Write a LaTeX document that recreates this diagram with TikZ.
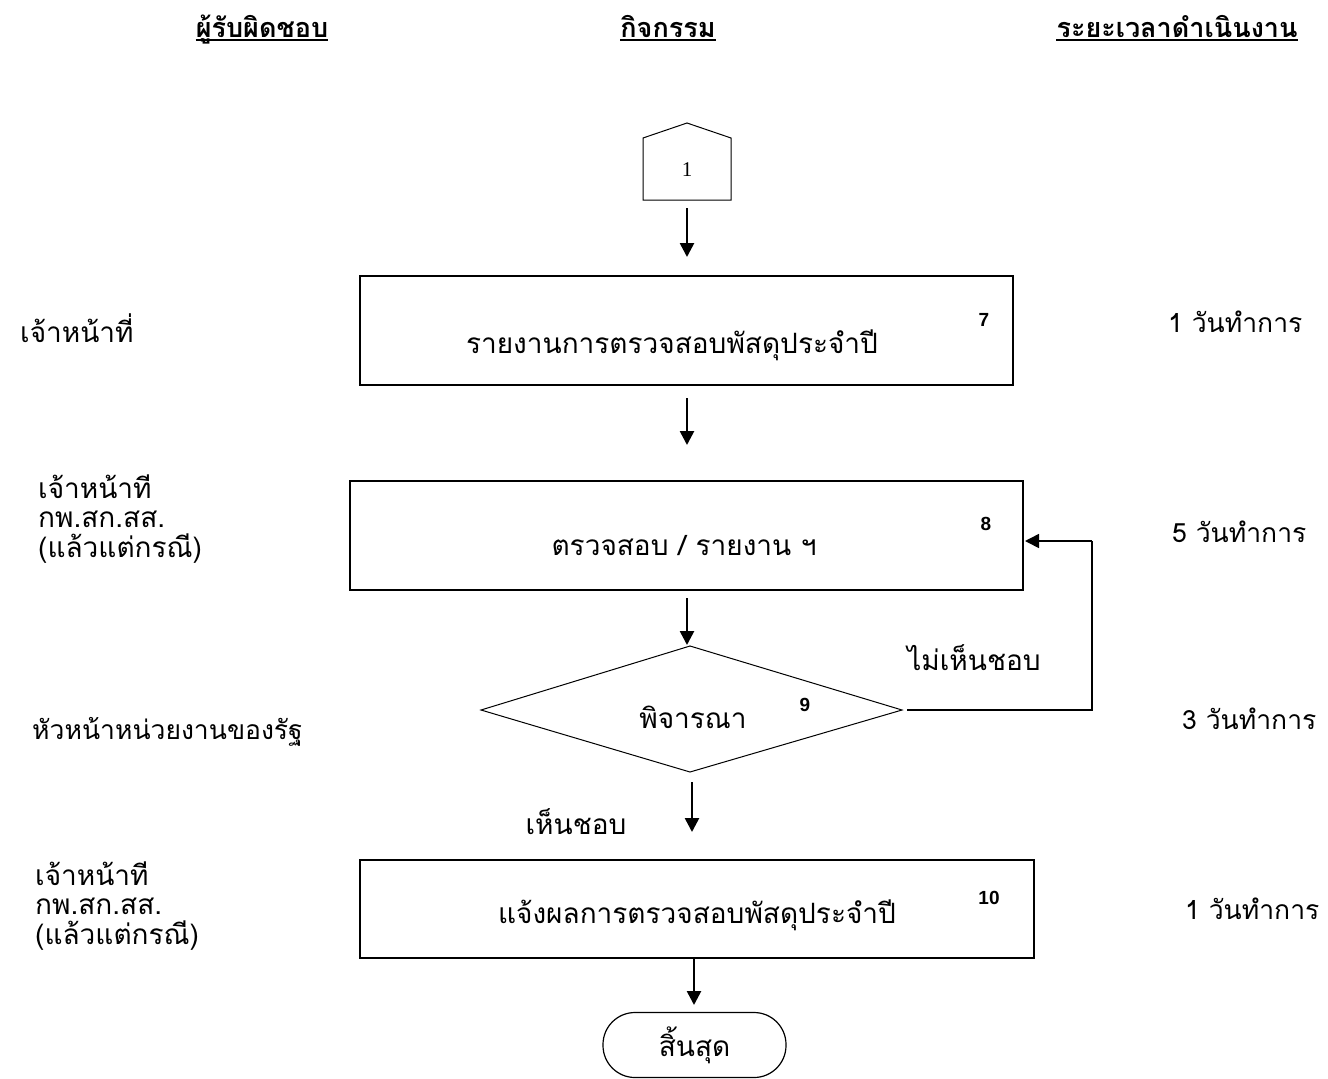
\documentclass[tikz,border=0pt]{standalone}
\usepackage{fontspec}
\newfontfamily\thai[Script=Thai]{Loma}
\setmainfont{Liberation Sans}
\newfontfamily\serif{Liberation Serif}
\usetikzlibrary{arrows.meta}
\begin{document}
\begin{tikzpicture}[x=1pt,y=-1pt,
  box/.style={draw,line width=1.1pt,rectangle,inner sep=0pt},
  txt/.style={font=\thai\fontsize{28}{29.5}\selectfont,inner sep=0pt},
  lefttxt/.style={txt,anchor=west,align=left},
  durtxt/.style={lefttxt,font=\thai\fontsize{26.5}{29.5}\selectfont},
  num/.style={font=\rmfamily\bfseries\fontsize{19}{21}\selectfont,inner sep=0pt},
  head/.style={font=\thai\bfseries\fontsize{27}{30}\selectfont,inner sep=0pt,anchor=base},
  arr/.style={line width=2.6pt,-{Triangle[length=14pt,width=14pt]}},
  link/.style={line width=1.6pt}]
\useasboundingbox (0,0) rectangle (1328,1079);
% headers
\node[head] (h1) at (262,37) {ผู้รับผิดชอบ};
\node[head] (h2) at (668,37) {กิจกรรม};
\node[head] (h3) at (1177,37) {ระยะเวลาดำเนินงาน};
\foreach \h in {h1,h2,h3}{\draw[line width=1.5pt] ([yshift=-3pt]\h.base west) -- ([yshift=-3pt]\h.base east);}
% off-page connector
\draw[line width=1pt] (643,200) -- (643,138) -- (687,123) -- (731,138) -- (731,200) -- cycle;
\node[font=\serif\fontsize{21}{23}\selectfont,inner sep=0pt] (c1) at (687,170) {1};
\coordinate (a1s) at (687,208); \coordinate (a1e) at (687,257);
\draw[arr] (a1s) -- (a1e);
% box 7
\node[box,minimum width=653pt,minimum height=109pt] (b7) at (686.5,330.5) {};
\node[txt] (t7) at (672,345) {รายงานการตรวจสอบพัสดุประจำปี};
\node[num] (n7) at (984,320) {7};
\coordinate (a2s) at (687,398); \coordinate (a2e) at (687,445);
\draw[arr] (a2s) -- (a2e);
% box 8
\node[box,minimum width=673pt,minimum height=109pt] (b8) at (686.5,535.5) {};
\node[txt] (t8) at (684,546) {ตรวจสอบ / รายงาน ฯ};
\node[num] (n8) at (986,524) {8};
\coordinate (a3s) at (687,598); \coordinate (a3e) at (687,645);
\draw[arr] (a3s) -- (a3e);
% diamond
\draw[line width=1pt] (481,710) -- (690,646) -- (902,710) -- (690,772) -- cycle;
\coordinate (dR) at (907,710);
\node[txt] (t9) at (693,717) {พิจารณา};
\node[num] (n9) at (805,705) {9};
\coordinate (lp) at (1092,710); \coordinate (lq) at (1092,541);
\coordinate (b8r) at (1025,541);
\draw[link] (dR) -- (lp) -- (lq);
\draw[arr,line width=1.6pt] (lq) -- (b8r);
\node[txt] (no) at (974,658) {ไม่เห็นชอบ};
\coordinate (a4s) at (692,782); \coordinate (a4e) at (692,832);
\draw[arr] (a4s) -- (a4e);
\node[txt] (yes) at (576,822) {เห็นชอบ};
% box 10
\node[box,minimum width=674pt,minimum height=98pt] (b10) at (697,909) {};
\node[txt] (t10) at (697,915) {แจ้งผลการตรวจสอบพัสดุประจำปี};
\node[num] (n10) at (989,898) {10};
\coordinate (a5s) at (694,958); \coordinate (a5e) at (694,1005);
\draw[arr] (a5s) -- (a5e);
% terminal
\node[draw,line width=1.2pt,rounded corners=32pt,minimum width=183pt,minimum height=65pt,inner sep=0pt,txt] (end) at (694.5,1045) {สิ้นสุด};
% left labels
\node[lefttxt] (r7) at (20,328) {เจ้าหน้าที่};
\node[lefttxt,align=left] (r8) at (38,519) {เจ้าหน้าที\\กพ.สก.สส.\\(แล้วแต่กรณี)};
\node[durtxt] (r9) at (32,732) {หัวหน้าหน่วยงานของรัฐ};
\node[lefttxt,align=left] (r10) at (35,906) {เจ้าหน้าที\\กพ.สก.สส.\\(แล้วแต่กรณี)};
% right labels
\node[durtxt] (d7) at (1168,322) {1 วันทำการ};
\node[durtxt] (d8) at (1172,532) {5 วันทำการ};
\node[durtxt] (d9) at (1182,719) {3 วันทำการ};
\node[durtxt] (d10) at (1185,909) {1 วันทำการ};
\end{tikzpicture}
\end{document}
